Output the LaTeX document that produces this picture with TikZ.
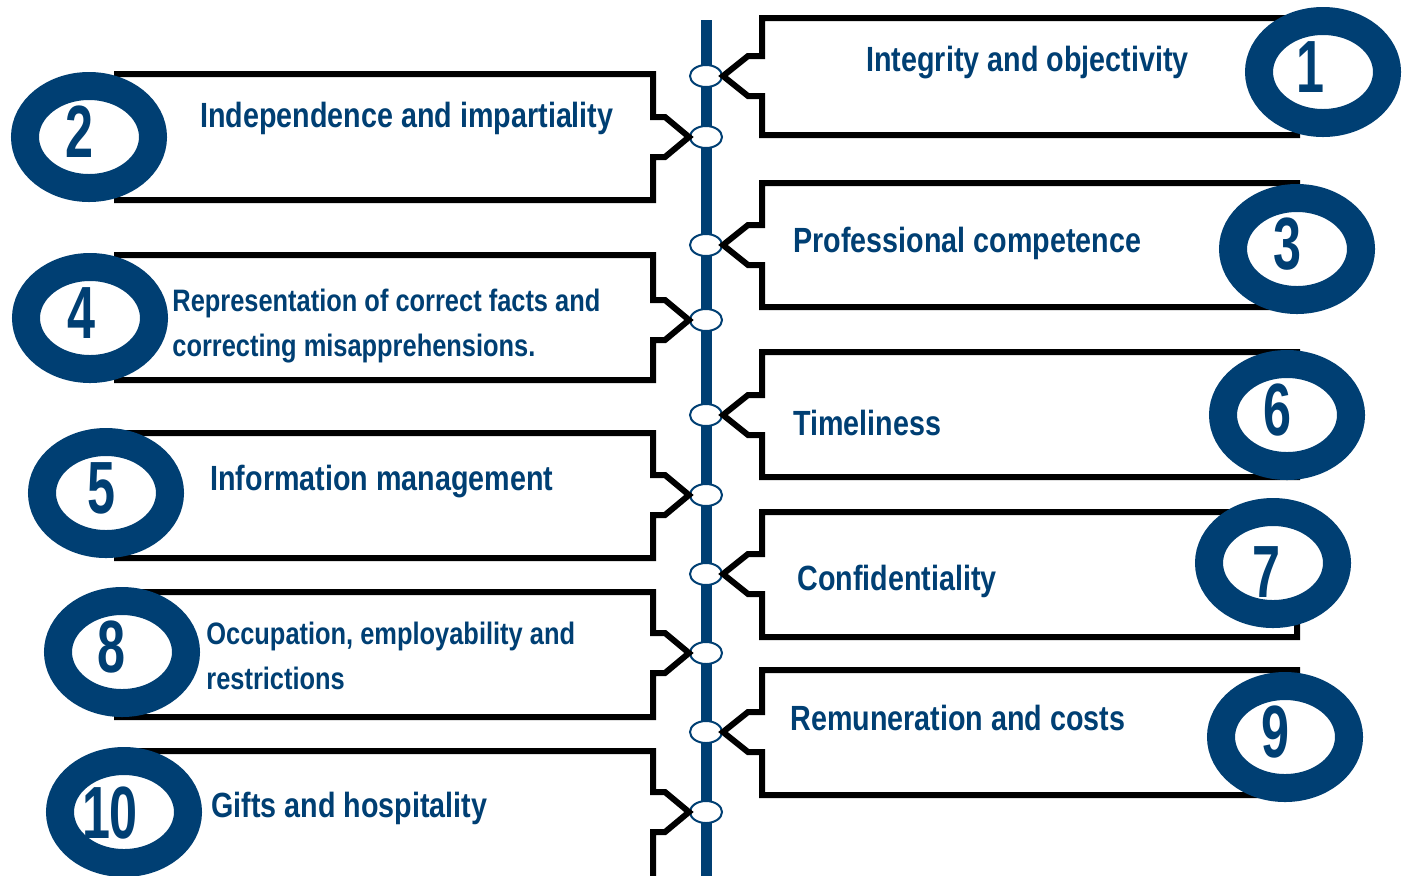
\documentclass[tikz,border=0pt]{standalone}
\usepackage{fontspec}
\setmainfont[FakeStretch=0.82]{Liberation Sans}
\newfontfamily\digitfont[FakeStretch=0.68]{Liberation Sans}
\usetikzlibrary{shapes.geometric}
\definecolor{navy}{RGB}{0,63,115}
\begin{document}
\begin{tikzpicture}[x=0.5pt,y=-0.5pt,
  spine/.style={draw=navy, line width=5.5pt},
  joint/.style={ellipse, draw=navy, fill=white, line width=1pt, minimum width=16pt, minimum height=11pt, inner sep=0pt},
  frame/.style={draw=black, line width=3pt, line join=miter},
  ring/.style={ellipse, draw=navy, fill=white, line width=14pt, minimum width=64pt, minimum height=51pt, inner sep=0pt},
  num/.style={text=navy, font=\digitfont\fontsize{37}{40}\selectfont\bfseries, inner sep=0pt, anchor=center},
  txt/.style={anchor=base west, text=navy, font=\fontsize{17.5}{21}\selectfont\bfseries, inner sep=0pt},
  stxt/.style={anchor=base west, text=navy, font=\fontsize{15.5}{21}\selectfont\bfseries, inner sep=0pt}
]
\useasboundingbox (0,0) rectangle (1406,875);
% spine
\coordinate (stop) at (706,20);
\coordinate (sbot) at (706,880);
\draw[spine] (stop) -- (sbot);
% joints
\node[joint] (j1) at (706,76) {};
\node[joint] (j2) at (706,137) {};
\node[joint] (j3) at (706,245) {};
\node[joint] (j4) at (706,320) {};
\node[joint] (j6) at (706,415) {};
\node[joint] (j5) at (706,495) {};
\node[joint] (j7) at (706,574) {};
\node[joint] (j8) at (706,653) {};
\node[joint] (j9) at (706,732) {};
\node[joint] (j10) at (706,812) {};
% right frames
\draw[frame] (j1.east) -- ++(25,-20) -- ++(14,0) |- (1297,18) -- (1297,135) -| (762,96) -- ++(-14,0) -- cycle;
\draw[frame] (j3.east) -- ++(25,-20) -- ++(14,0) |- (1297,183) -- (1297,307) -| (762,265) -- ++(-14,0) -- cycle;
\draw[frame] (j6.east) -- ++(25,-20) -- ++(14,0) |- (1297,352) -- (1297,477) -| (762,435) -- ++(-14,0) -- cycle;
\draw[frame] (j7.east) -- ++(25,-20) -- ++(14,0) |- (1297,512) -- (1297,637) -| (762,594) -- ++(-14,0) -- cycle;
\draw[frame] (j9.east) -- ++(25,-20) -- ++(14,0) |- (1297,670) -- (1297,795) -| (762,752) -- ++(-14,0) -- cycle;
% left frames
\draw[frame] (j2.west) -- ++(-24,-20) -- ++(-12,0) |- (117,74) -- (117,200) -| (653,157) -- ++(12,0) -- cycle;
\draw[frame] (j4.west) -- ++(-24,-20) -- ++(-12,0) |- (117,255) -- (117,380) -| (653,340) -- ++(12,0) -- cycle;
\draw[frame] (j5.west) -- ++(-24,-20) -- ++(-12,0) |- (117,433) -- (117,558) -| (653,515) -- ++(12,0) -- cycle;
\draw[frame] (j8.west) -- ++(-24,-20) -- ++(-12,0) |- (117,592) -- (117,717) -| (653,673) -- ++(12,0) -- cycle;
\draw[frame] (j10.west) -- ++(-24,-20) -- ++(-12,0) |- (117,751) -- (117,890) -| (653,832) -- ++(12,0) -- cycle;
% rings
\node[ring] (r1) at (1323,72) {};
\node[ring] (r2) at (89,137) {};
\node[ring] (r3) at (1297,249) {};
\node[ring] (r4) at (90,318) {};
\node[ring] (r5) at (106,493) {};
\node[ring] (r6) at (1287,415) {};
\node[ring] (r7) at (1273,563) {};
\node[ring] (r8) at (122,652) {};
\node[ring] (r9) at (1285,737) {};
\node[ring] (r10) at (124,812) {};
% numbers
\node[num] (n1) at (1310,67) {1};
\node[num] (n2) at (79,132) {2};
\node[num] (n3) at (1287,244) {3};
\node[num] (n4) at (81,313) {4};
\node[num] (n5) at (101,488) {5};
\node[num] (n6) at (1277,410) {6};
\node[num] (n7) at (1266,572) {7};
\node[num] (n8) at (111,647) {8};
\node[num] (n9) at (1275,732) {9};
\node[num] (n10) at (110,813) {10};
% texts
\node[txt] (t1) at (866,71) {Integrity and objectivity};
\node[txt] (t2) at (200,127) {Independence and impartiality};
\node[txt] (t3) at (793,252) {Professional competence};
\node[stxt] (t4a) at (172,311) {Representation of correct facts and};
\node[stxt] (t4b) at (172,356) {correcting misapprehensions.};
\node[txt] (t6) at (793,435) {Timeliness};
\node[txt] (t5) at (210,490) {Information management};
\node[txt] (t7) at (797,590) {Confidentiality};
\node[stxt] (t8a) at (206,644) {Occupation, employability and};
\node[stxt] (t8b) at (206,689) {restrictions};
\node[txt] (t9) at (790,730) {Remuneration and costs};
\node[txt] (t10) at (211,817) {Gifts and hospitality};
\end{tikzpicture}
\end{document}
